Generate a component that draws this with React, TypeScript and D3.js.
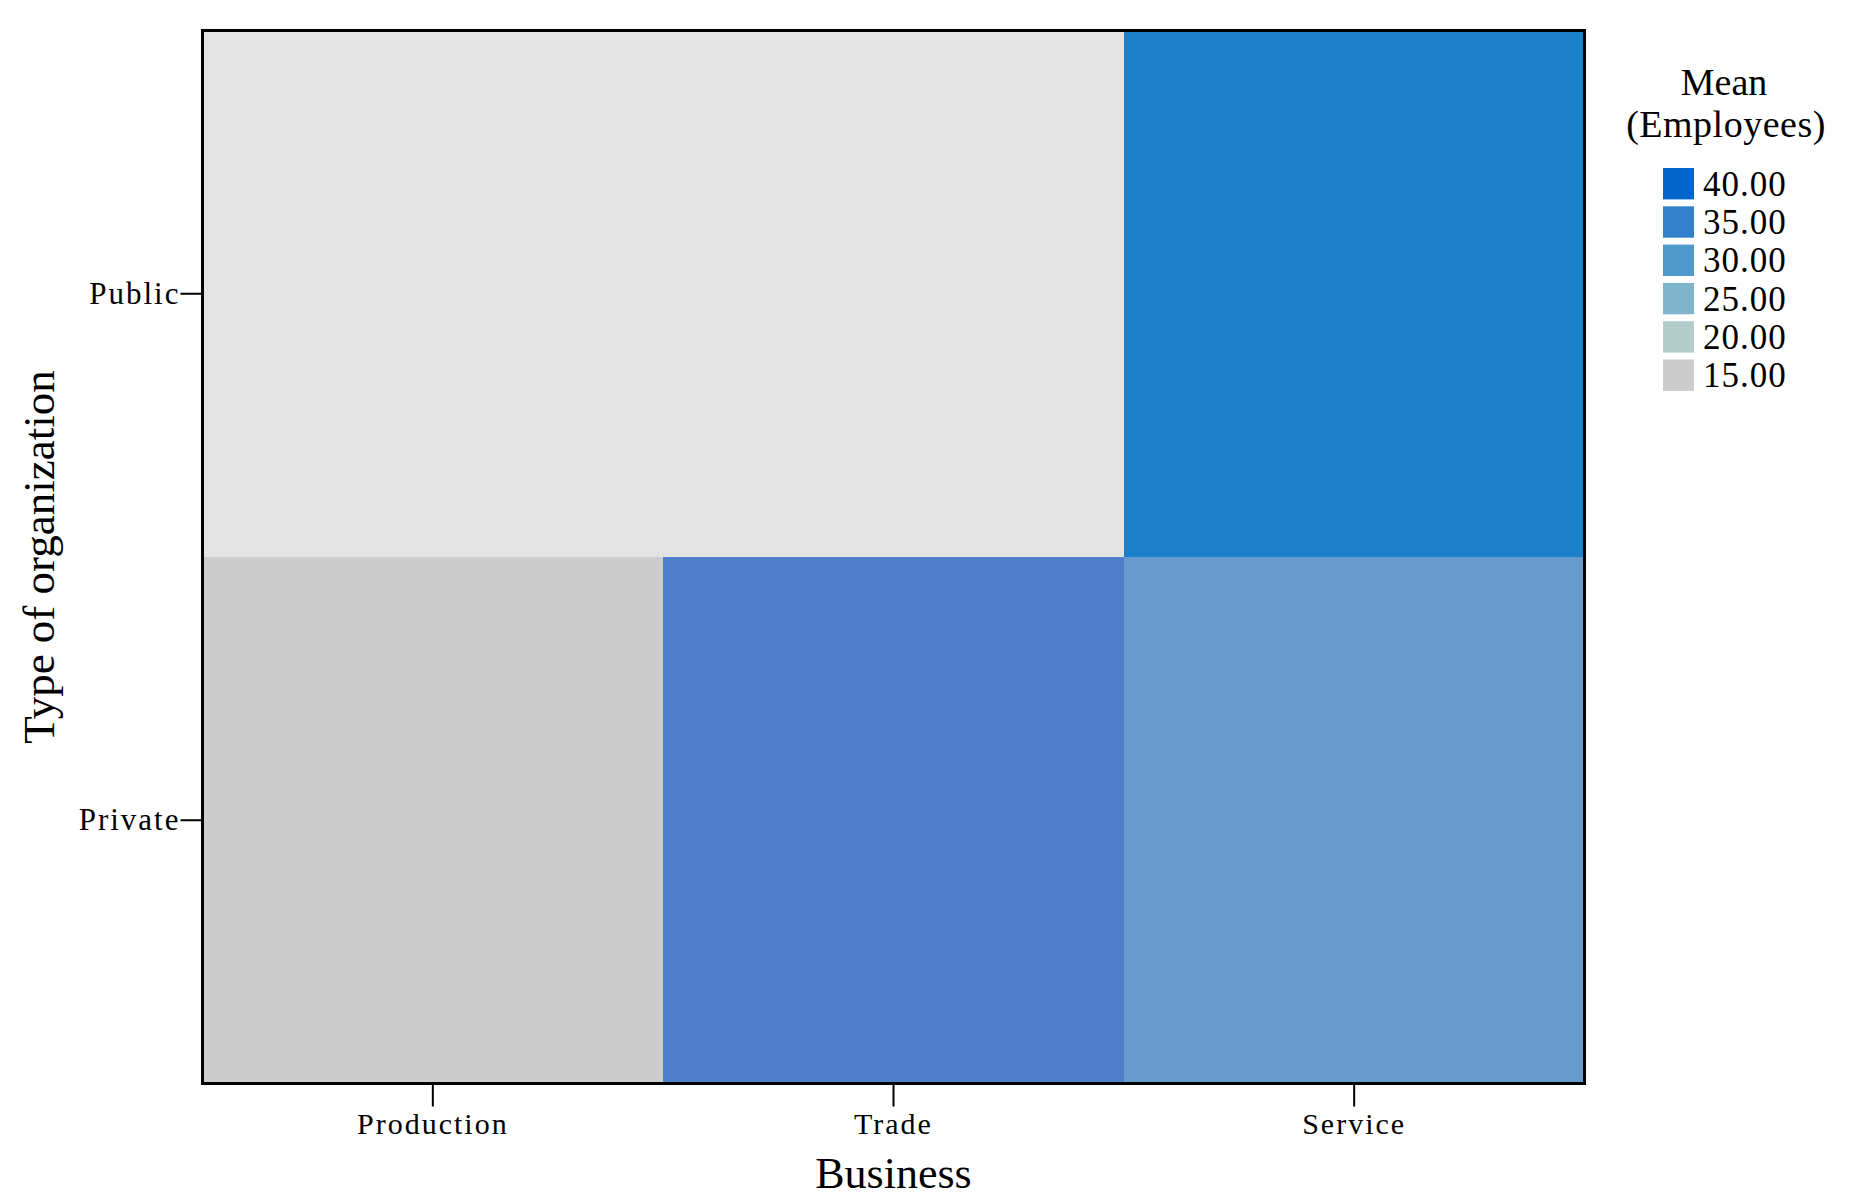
import React from "react";
import * as d3 from "d3";

const businesses = ["Production", "Trade", "Service"];
const orgTypes = ["Public", "Private"];
// Mean employees per cell (null = no cases)
const publicMeans: (number | null)[] = [null, null, 37];
const privateMeans: (number | null)[] = [15, 34, 28];
const legendValues = [40, 35, 30, 25, 20, 15];
const legendStops = [15, 20, 25, 30, 35, 40];
const legendPalette = ["#cccccc", "#b3cccc", "#80b3cc", "#4d99cc", "#3380cc", "#0066cc"];
// cell colour ramp (as rendered by the source chart)
const cellStops = [15, 28, 34, 37, 40];
const cellPalette = ["#cccccc", "#679bcb", "#4f7fcb", "#1c80cb", "#0066cc"];

const W = 1852;
const H = 1203;
const plot = { left: 202.5, right: 1584.5, top: 30.5, bottom: 1083.5 };
const FONT = '"Liberation Serif", "Times New Roman", serif';

export default function App() {
  const x = d3.scaleBand<string>().domain(businesses).range([plot.left, plot.right]).padding(0);
  const y = d3.scaleBand<string>().domain(orgTypes).range([plot.top, plot.bottom]).padding(0);
  const legendColor = d3
    .scaleLinear<string>()
    .domain(legendStops)
    .range(legendPalette)
    .interpolate(d3.interpolateRgb)
    .clamp(true);
  const cellColor = d3
    .scaleLinear<string>()
    .domain(cellStops)
    .range(cellPalette)
    .interpolate(d3.interpolateRgb)
    .clamp(true);

  const rows: { org: string; vals: (number | null)[] }[] = [
    { org: "Public", vals: publicMeans },
    { org: "Private", vals: privateMeans },
  ];
  const cells = rows.flatMap((r) =>
    r.vals.map((v, i) => ({ org: r.org, biz: businesses[i], v }))
  );

  const step = 38.3;
  const legendY = d3
    .scaleBand<string>()
    .domain(legendValues.map(String))
    .range([168, 168 + step * (legendValues.length - 0.18)])
    .paddingInner(0.18)
    .paddingOuter(0);

  return (
    <svg
      width={W}
      height={H}
      style={{ position: "absolute", left: 0, top: 0, display: "block", background: "#fff" }}
      fontFamily={FONT}
    >
      <rect x={0} y={0} width={W} height={H} fill="#fff" />
      {/* plot background (empty cells) */}
      <rect
        x={plot.left}
        y={plot.top}
        width={plot.right - plot.left}
        height={plot.bottom - plot.top}
        fill="#e3e3e3"
      />
      {cells
        .filter((c) => c.v !== null)
        .map((c) => (
          <rect
            key={c.org + c.biz}
            x={x(c.biz)!}
            y={y(c.org)!}
            width={x.bandwidth()}
            height={y.bandwidth()}
            fill={cellColor(c.v as number)}
            shapeRendering="crispEdges"
          />
        ))}
      {/* frame */}
      <rect
        x={plot.left}
        y={plot.top}
        width={plot.right - plot.left}
        height={plot.bottom - plot.top}
        fill="none"
        stroke="#000"
        strokeWidth={3}
      />
      {/* y ticks */}
      {orgTypes.map((o) => {
        const cy = y(o)! + y.bandwidth() / 2;
        return (
          <g key={o}>
            <line x1={plot.left - 22} x2={plot.left} y1={cy} y2={cy} stroke="#000" strokeWidth={2} />
            <text
              x={plot.left - 22}
              y={cy + 10}
              textAnchor="end"
              fontSize={31}
              letterSpacing={2}
              fill="#000"
            >
              {o}
            </text>
          </g>
        );
      })}
      {/* x ticks */}
      {businesses.map((b) => {
        const cx = x(b)! + x.bandwidth() / 2;
        return (
          <g key={b}>
            <line x1={cx} x2={cx} y1={plot.bottom} y2={plot.bottom + 23} stroke="#000" strokeWidth={2} />
            <text x={cx} y={1134} textAnchor="middle" fontSize={30} letterSpacing={2} fill="#000">
              {b}
            </text>
          </g>
        );
      })}
      {/* axis titles */}
      <text x={(plot.left + plot.right) / 2} y={1188} textAnchor="middle" fontSize={44} fill="#000">
        Business
      </text>
      <text
        transform={`translate(${54},${(plot.top + plot.bottom) / 2}) rotate(-90)`}
        textAnchor="middle"
        fontSize={45}
        fill="#000"
      >
        Type of organization
      </text>
      {/* legend */}
      <text x={1724} y={95} textAnchor="middle" fontSize={38} fill="#000">
        Mean
      </text>
      <text x={1726} y={137} textAnchor="middle" fontSize={38} letterSpacing={0.5} fill="#000">
        (Employees)
      </text>
      {legendValues.map((v) => (
        <g key={v}>
          <rect
            x={1663}
            y={legendY(String(v))!}
            width={31}
            height={legendY.bandwidth()}
            fill={legendColor(v)}
          />
          <text
            x={1703}
            y={legendY(String(v))! + legendY.bandwidth() / 2 + 12}
            fontSize={35}
            letterSpacing={1}
            fill="#000"
          >
            {v.toFixed(2)}
          </text>
        </g>
      ))}
    </svg>
  );
}
